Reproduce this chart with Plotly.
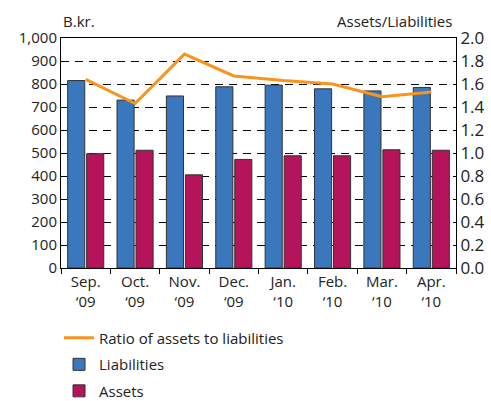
import plotly.graph_objects as go

# Monthly data
months = ["Sep.<br>‘09", "Oct.<br>‘09", "Nov.<br>‘09", "Dec.<br>‘09",
          "Jan.<br>‘10", "Feb.<br>‘10", "Mar.<br>‘10", "Apr.<br>‘10"]
liabilities = [815, 730, 748, 788, 795, 779, 770, 785]
assets = [497, 512, 405, 472, 488, 488, 514, 512]
ratio = [1.64, 1.43, 1.86, 1.67, 1.63, 1.60, 1.49, 1.53]

left_ticks = list(range(0, 1001, 100))
right_ticks = [round(0.2 * i, 1) for i in range(11)]

FONT = "Open Sans"
BLUE = "#3a77bc"
RED = "#b5135a"
ORANGE = "#f7941d"

fig = go.Figure()

fig.add_trace(go.Bar(
    x=months, y=liabilities, name="Liabilities",
    marker=dict(color=BLUE, line=dict(color="#333333", width=1)),
    legendrank=2, legendgroup="l",
))
fig.add_trace(go.Bar(
    x=months, y=assets, name="Assets",
    marker=dict(color=RED, line=dict(color="#333333", width=1)),
    legendrank=3, legendgroup="a",
))
fig.add_trace(go.Scatter(
    x=months, y=ratio, name="Ratio of assets to liabilities",
    mode="lines", line=dict(color=ORANGE, width=3),
    yaxis="y2", legendrank=1, legendgroup="r",
))

fig.update_layout(
    width=491, height=401,
    margin=dict(l=61, r=35, t=38, b=133),
    plot_bgcolor="white", paper_bgcolor="white",
    font=dict(family=FONT, size=15, color="#222222"),
    barmode="group", bargap=0.23, bargroupgap=0.1,
    xaxis=dict(
        showline=True, linecolor="black", linewidth=1, mirror=True,
        ticks="outside", tickson="boundaries", ticklen=5, tickcolor="black",
        tickfont=dict(size=15), showgrid=False, automargin=False,
    ),
    yaxis=dict(
        range=[0, 1000], tickvals=left_ticks, tickformat=",",
        showline=True, linecolor="black", linewidth=1,
        showgrid=True, gridcolor="black", gridwidth=1, griddash="8px,6px",
        zeroline=False, ticks="", tickfont=dict(size=15), automargin=False,
    ),
    yaxis2=dict(
        range=[0, 2.0], tickvals=right_ticks, tickformat=".1f",
        overlaying="y", side="right", showgrid=False, zeroline=False,
        showline=True, linecolor="black", linewidth=1,
        tickfont=dict(size=17), automargin=False,
    ),
    legend=dict(
        x=-0.005, xanchor="left", yref="container", y=0.198, yanchor="top",
        font=dict(size=15), tracegroupgap=4, bgcolor="rgba(0,0,0,0)",
    ),
    annotations=[
        dict(text="B.kr.", xref="paper", yref="paper", x=0.0, y=1.02,
             xanchor="left", yanchor="bottom", showarrow=False,
             font=dict(size=15)),
        dict(text="Assets/Liabilities", xref="paper", yref="paper", x=0.995,
             y=1.02, xanchor="right", yanchor="bottom", showarrow=False,
             font=dict(size=15)),
    ],
)

# the page body has a default margin; drop it so the figure sits at (0, 0)
fig.write_html("out.html", config={"displayModeBar": False},
               post_script="document.body.style.margin = '0';")
